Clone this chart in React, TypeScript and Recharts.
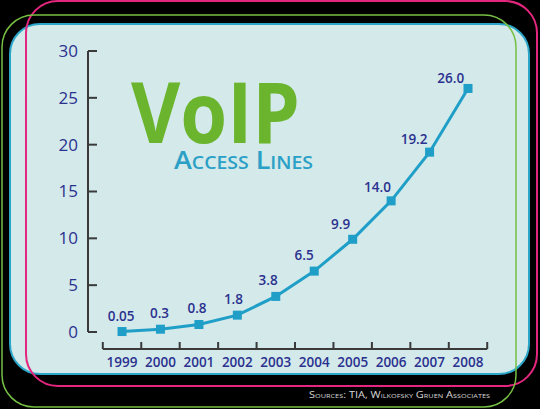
import React from 'react';
import { LineChart, Line, XAxis, YAxis, ReferenceLine, LabelList } from 'recharts';

// ---- data ----
const YEARS = [1999, 2000, 2001, 2002, 2003, 2004, 2005, 2006, 2007, 2008];
const VALUES = [0.05, 0.3, 0.8, 1.8, 3.8, 6.5, 9.9, 14.0, 19.2, 26.0];
const VALUE_LABELS = ['0.05', '0.3', '0.8', '1.8', '3.8', '6.5', '9.9', '14.0', '19.2', '26.0'];
const Y_TICKS = [0, 5, 10, 15, 20, 25, 30];
const X_BOUNDARIES = [1998.5, 1999.5, 2000.5, 2001.5, 2002.5, 2003.5, 2004.5, 2005.5, 2006.5, 2007.5, 2008.5];
const TITLE = 'VoIP';
const SUBTITLE = 'Access Lines';
const SOURCE = 'Sources: TIA, Wilkofsky Gruen Associates';

const data = YEARS.map((year, i) => ({ year, value: VALUES[i], label: VALUE_LABELS[i] }));

// ---- style ----
const X_DOMAIN: [number, number] = [1998.115, 2008.52];
const Y_DOMAIN: [number, number] = [-1.815, 30];
const NAVY = '#2b318f';
const LINE = '#1f9fc7';
const AXIS = '#3a3a3a';
const FONT = '"Open Sans", sans-serif';
const SLOPE_K = (281 / 30) / 38.44;

const XTick = (props: any) => {
  const { x, y, payload } = props;
  const axisY = y - 8;
  const v = payload.value;
  if (Number.isInteger(v)) {
    return (
      <text x={x} y={axisY + 18} textAnchor="middle" fontFamily={FONT} fontSize={13.5} fontWeight={600} fill={NAVY}>
        {v}
      </text>
    );
  }
  return <line x1={x} x2={x} y1={axisY} y2={axisY - 7} stroke={AXIS} strokeWidth={2} />;
};

const YTick = (props: any) => {
  const { x, y, payload } = props;
  const axisX = x + 8;
  return (
    <g>
      <text x={x - 2} y={y + 6} textAnchor="end" fontFamily={FONT} fontSize={17} fontWeight={500} fill={NAVY}>
        {payload.value}
      </text>
      <line x1={axisX} x2={axisX + 9} y1={y} y2={y} stroke={AXIS} strokeWidth={2} />
    </g>
  );
};

const SquareDot = (props: any) => {
  const { cx, cy, index } = props;
  return <rect key={`dot-${index}`} x={cx - 4.5} y={cy - 4.5} width={9} height={9} fill={LINE} />;
};

const renderValueLabel = (props: any) => {
  const { x, y, value } = props;
  let i = props.index;
  if (i === undefined || i === null) i = VALUE_LABELS.indexOf(String(value));
  const slope = i > 0 ? VALUES[i] - VALUES[i - 1] : VALUES[1] - VALUES[0];
  const th = Math.atan(slope * SLOPE_K);
  const d = 15 + 6 * Math.sin(th);
  const lx = x - Math.sin(th) * d;
  const ly = y - Math.cos(th) * d;
  return (
    <text key={`lbl-${i}`} x={lx} y={ly + 4.5} textAnchor="middle" fontFamily={FONT} fontSize={13.5} fontWeight={600} fill={NAVY}>
      {value}
    </text>
  );
};

export default function App() {
  return (
    <div style={{ position: 'absolute', left: 0, top: 0, width: 540, height: 409, background: '#000', overflow: 'hidden' }}>
      <svg width={540} height={409} style={{ position: 'absolute', left: 0, top: 0 }}>
        <rect x={10} y={24} width={519} height={350} rx={30} ry={30} fill="#d3e9ea" stroke="#2ba6c9" strokeWidth={2} />
        <rect x={26} y={1} width={511} height={385} rx={32} ry={32} fill="none" stroke="#e4267e" strokeWidth={2} />
        <rect x={2} y={15} width={514} height={392} rx={32} ry={32} fill="none" stroke="#77c043" strokeWidth={1.5} />
        <text x={131} y={143} fontFamily={FONT} fontSize={84} fontWeight={700} fill="#6bb52e" textLength={169} lengthAdjust="spacingAndGlyphs">
          {TITLE}
        </text>
        <text x={174} y={169} fontFamily={FONT} fontSize={25} fontWeight={600} fill="#2aa0c6" style={{ fontVariant: 'small-caps' }} textLength={139} lengthAdjust="spacingAndGlyphs">
          {SUBTITLE}
        </text>
        <text x={309} y={398} fontFamily={FONT} fontSize={9} fill="#d8d8d8" style={{ fontVariant: 'small-caps' }} textLength={181} lengthAdjust="spacingAndGlyphs">
          {SOURCE}
        </text>
      </svg>
      <div style={{ position: 'absolute', left: 0, top: 0 }}>
        <LineChart width={540} height={409} data={data} margin={{ top: 51, right: 52, bottom: 0, left: 0 }}>
          <XAxis
            dataKey="year"
            type="number"
            domain={X_DOMAIN}
            allowDataOverflow
            ticks={[...X_BOUNDARIES, ...YEARS].sort((a, b) => a - b)}
            interval={0}
            tick={<XTick />}
            tickLine={false}
            axisLine={false}
            tickSize={6}
            tickMargin={2}
            height={60}
          />
          <YAxis
            type="number"
            domain={Y_DOMAIN}
            allowDataOverflow
            ticks={Y_TICKS}
            interval={0}
            tick={<YTick />}
            tickLine={false}
            axisLine={false}
            tickSize={6}
            tickMargin={2}
            width={88}
          />
          <ReferenceLine
            segment={[{ x: X_DOMAIN[0], y: 0 }, { x: X_DOMAIN[0], y: 30 }]}
            stroke={AXIS}
            strokeWidth={2}
            ifOverflow="visible"
          />
          <ReferenceLine
            segment={[{ x: X_BOUNDARIES[0], y: Y_DOMAIN[0] }, { x: X_BOUNDARIES[X_BOUNDARIES.length - 1], y: Y_DOMAIN[0] }]}
            stroke={AXIS}
            strokeWidth={2}
            ifOverflow="visible"
          />
          <Line
            type="linear"
            dataKey="value"
            stroke={LINE}
            strokeWidth={3}
            dot={SquareDot}
            activeDot={false}
            isAnimationActive={false}
          >
            <LabelList dataKey="label" content={renderValueLabel} />
          </Line>
        </LineChart>
      </div>
    </div>
  );
}
